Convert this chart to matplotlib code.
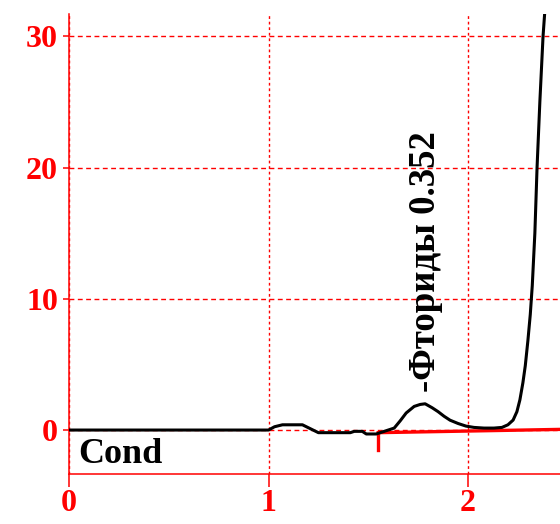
import matplotlib.pyplot as plt

# conductivity trace (time, signal)
t = [0.0, 1.00, 1.03, 1.07, 1.17, 1.21, 1.25, 1.41, 1.43, 1.47, 1.49, 1.54,
     1.58, 1.63, 1.66, 1.69, 1.73, 1.76, 1.785, 1.82, 1.85, 1.88, 1.91, 1.95,
     1.99, 2.03, 2.08, 2.13, 2.17, 2.20, 2.226, 2.245, 2.26, 2.275, 2.287,
     2.30, 2.312, 2.322, 2.335, 2.346, 2.36, 2.376, 2.39]
signal = [0, 0, 0.25, 0.4, 0.4, 0.1, -0.2, -0.2, -0.1, -0.1, -0.3, -0.3,
          -0.1, 0.15, 0.7, 1.3, 1.8, 1.95, 2.0, 1.7, 1.4, 1.05, 0.75, 0.5,
          0.3, 0.2, 0.15, 0.15, 0.2, 0.4, 0.76, 1.4, 2.3, 3.6, 4.9,
          6.8, 8.8, 11, 15, 20, 25, 30, 33]

# integration baseline
base_t = [1.55, 2.46]
base_y = [-0.2, 0.05]
base_tick = [-0.2, -1.5]

peak_name = "-Фториды 0.352"
peak_t = 1.785

xticks = [0, 1, 2]
yticks = [0, 10, 20, 30]

serif = "Liberation Serif"
red = "#ff0000"

fig = plt.figure(figsize=(5.6, 5.24), dpi=100)
ax = fig.add_axes([0.1232, 0.0954, 0.8768, 0.8779])

ax.set_xlim(0, 2.461)
ax.set_ylim(-3.35, 31.7)

ax.set_xticks(xticks)
ax.set_yticks(yticks)
ax.set_xticklabels([str(v) for v in xticks])
ax.set_yticklabels([str(v) for v in yticks])

for s in ["top", "right"]:
    ax.spines[s].set_visible(False)
for s in ["left", "bottom"]:
    ax.spines[s].set_color(red)
    ax.spines[s].set_linewidth(1.1)

ax.tick_params(axis="x", colors=red, length=9.5, width=1.1, pad=1)
ax.tick_params(axis="y", colors=red, length=4.5, width=1.1, pad=3.5)
for lab in ax.get_xticklabels() + ax.get_yticklabels():
    lab.set_fontfamily(serif)
    lab.set_fontweight("bold")
    lab.set_fontsize(23)
    lab.set_color(red)

ax.yaxis.grid(True, color=red, linestyle=(0, (3.5, 2.5)), linewidth=1.0)
ax.xaxis.grid(True, color=red, linestyle=(0, (2, 2)), linewidth=1.0)
ax.set_axisbelow(True)

ax.plot(base_t, base_y, color=red, linewidth=2.4, zorder=2)
ax.plot([base_t[0], base_t[0]], base_tick, color=red, linewidth=2.4, zorder=2)

ax.plot(t, signal, color="black", linewidth=2.2, zorder=3, clip_on=True)

ax.text(peak_t, 2.9, peak_name, rotation=90, ha="center", va="bottom",
        fontfamily=serif, fontweight="bold", fontsize=26.5, color="black")
ax.text(0.018, 0.042, "Cond", transform=ax.transAxes, ha="left", va="center",
        fontfamily=serif, fontweight="bold", fontsize=26, color="black")

fig.savefig("out.png", dpi=100)
